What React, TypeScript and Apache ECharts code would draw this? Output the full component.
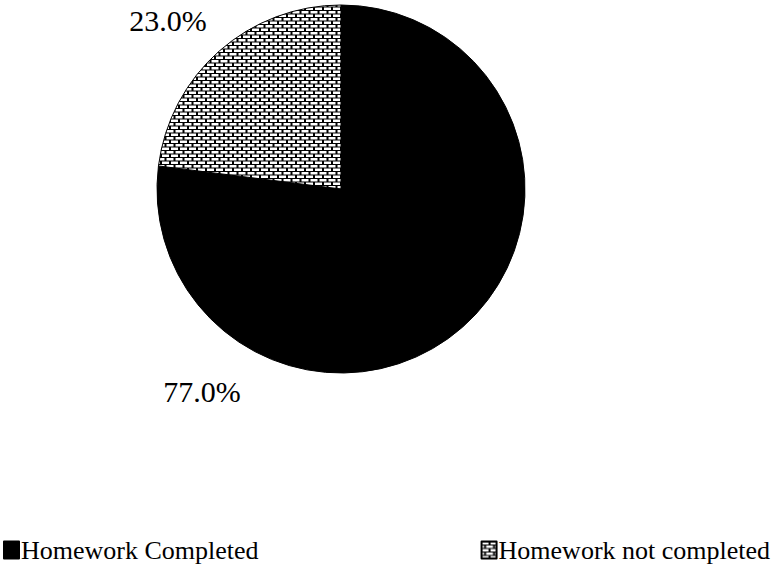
import React, { useEffect, useRef } from "react";
import * as echarts from "echarts";

const categories = ["Homework Completed", "Homework not completed"];
const values = [77.0, 23.0];
const labelTexts = ["77.0%", "23.0%"];

function makeBrickPattern(): string {
  // drawn at 2x, scaled down by the pattern transform
  const c = document.createElement("canvas");
  c.width = 18;
  c.height = 14;
  const ctx = c.getContext("2d")!;
  ctx.fillStyle = "#000";
  ctx.fillRect(0, 0, 18, 14);
  ctx.fillStyle = "#fff";
  ctx.fillRect(0, 1, 14, 5);
  ctx.fillRect(9, 8, 9, 5);
  ctx.fillRect(0, 8, 5, 5);
  return c.toDataURL();
}

export default function App() {
  const ref = useRef<HTMLDivElement>(null);
  useEffect(() => {
    if (!ref.current) return;
    const chart = echarts.init(ref.current, undefined, { renderer: "svg" });
    const pattern = { image: makeBrickPattern(), repeat: "repeat", scaleX: 0.5, scaleY: 0.5 };
    const font = "'Liberation Serif', 'Times New Roman', serif";
    const labelPos: Record<number, [number, number]> = {
      0: [202, 391],
      1: [168, 20],
    };
    chart.setOption({
      animation: false,
      backgroundColor: "#fff",
      textStyle: { fontFamily: font, color: "#000" },
      legend: {
        left: -2,
        top: 532,
        itemWidth: 15,
        itemHeight: 17,
        itemGap: 222,
        icon: "rect",
        textStyle: { fontFamily: font, fontSize: 26, color: "#000", padding: [0, 0, 0, -3] },
        data: categories,
      },
      series: [
        {
          type: "pie",
          center: [341, 189],
          radius: 184,
          startAngle: 90,
          clockwise: true,
          data: categories.map((name, i) => ({
            name,
            value: values[i],
            itemStyle: i === 0 ? { color: "#000" } : { color: pattern as any },
            label: { formatter: labelTexts[i] },
          })),
          itemStyle: { borderColor: "#000", borderWidth: 1 },
          label: {
            show: true,
            position: "outside",
            fontFamily: font,
            fontSize: 30,
            color: "#000",
          },
          labelLine: { show: false },
          labelLayout: (params: any) => {
            const p = labelPos[params.dataIndex];
            return { x: p[0], y: p[1], align: "center", verticalAlign: "middle" };
          },
          emphasis: { disabled: true },
        },
      ],
    });
    return () => chart.dispose();
  }, []);
  return (
    <div
      ref={ref}
      style={{ position: "fixed", left: 0, top: 0, width: 783, height: 567 }}
    />
  );
}
